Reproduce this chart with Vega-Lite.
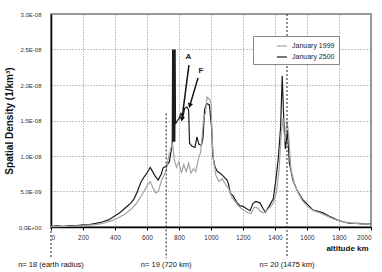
{
  "$schema": "https://vega.github.io/schema/vega-lite/v6.json",
  "width": 320,
  "height": 213,
  "autosize": {"type": "none"},
  "padding": {"left": 51, "top": 14, "right": 11, "bottom": 45},
  "background": "white",
  "config": {
    "font": "Liberation Sans",
    "view": {"stroke": "#9a9a9a", "strokeWidth": 2},
    "axis": {"gridColor": "#8a8a8a", "gridDash": [1, 2], "gridWidth": 1, "domainColor": "#000", "domainWidth": 1.5, "labelColor": "#333", "labelFontSize": 7, "tickColor": "#000", "labelOverlap": false, "labelBound": false}
  },
  "datasets": {
    "series": [
      {"series": "January 2500", "km": 0, "density": 1e-10},
      {"series": "January 2500", "km": 40, "density": 1.5e-10},
      {"series": "January 2500", "km": 80, "density": 1e-10},
      {"series": "January 2500", "km": 120, "density": 2e-10},
      {"series": "January 2500", "km": 160, "density": 2e-10},
      {"series": "January 2500", "km": 200, "density": 3e-10},
      {"series": "January 2500", "km": 240, "density": 3.5e-10},
      {"series": "January 2500", "km": 280, "density": 5e-10},
      {"series": "January 2500", "km": 320, "density": 7e-10},
      {"series": "January 2500", "km": 360, "density": 1.0e-9},
      {"series": "January 2500", "km": 400, "density": 1.6e-9},
      {"series": "January 2500", "km": 430, "density": 2.0e-9},
      {"series": "January 2500", "km": 460, "density": 2.6e-9},
      {"series": "January 2500", "km": 480, "density": 3.0e-9},
      {"series": "January 2500", "km": 500, "density": 3.4e-9},
      {"series": "January 2500", "km": 520, "density": 4.0e-9},
      {"series": "January 2500", "km": 540, "density": 5.0e-9},
      {"series": "January 2500", "km": 560, "density": 6.2e-9},
      {"series": "January 2500", "km": 580, "density": 7.0e-9},
      {"series": "January 2500", "km": 600, "density": 7.6e-9},
      {"series": "January 2500", "km": 620, "density": 8.4e-9},
      {"series": "January 2500", "km": 635, "density": 7.8e-9},
      {"series": "January 2500", "km": 650, "density": 7.2e-9},
      {"series": "January 2500", "km": 670, "density": 6.6e-9},
      {"series": "January 2500", "km": 690, "density": 7.5e-9},
      {"series": "January 2500", "km": 700, "density": 8.3e-9},
      {"series": "January 2500", "km": 720, "density": 8.6e-9},
      {"series": "January 2500", "km": 740, "density": 9.2e-9},
      {"series": "January 2500", "km": 755, "density": 1.13e-8},
      {"series": "January 2500", "km": 758, "density": 1.2e-8},
      {"series": "January 2500", "km": 760, "density": 2.5e-8},
      {"series": "January 2500", "km": 762, "density": 1.2e-8},
      {"series": "January 2500", "km": 764, "density": 2.5e-8},
      {"series": "January 2500", "km": 766, "density": 1.2e-8},
      {"series": "January 2500", "km": 768, "density": 2.5e-8},
      {"series": "January 2500", "km": 770, "density": 1.2e-8},
      {"series": "January 2500", "km": 772, "density": 2.5e-8},
      {"series": "January 2500", "km": 774, "density": 1.2e-8},
      {"series": "January 2500", "km": 776, "density": 2.5e-8},
      {"series": "January 2500", "km": 778, "density": 1.45e-8},
      {"series": "January 2500", "km": 790, "density": 1.5e-8},
      {"series": "January 2500", "km": 800, "density": 1.53e-8},
      {"series": "January 2500", "km": 812, "density": 1.6e-8},
      {"series": "January 2500", "km": 825, "density": 1.55e-8},
      {"series": "January 2500", "km": 835, "density": 1.67e-8},
      {"series": "January 2500", "km": 850, "density": 1.69e-8},
      {"series": "January 2500", "km": 860, "density": 1.65e-8},
      {"series": "January 2500", "km": 866, "density": 1.18e-8},
      {"series": "January 2500", "km": 880, "density": 1.14e-8},
      {"series": "January 2500", "km": 900, "density": 1.12e-8},
      {"series": "January 2500", "km": 912, "density": 1.27e-8},
      {"series": "January 2500", "km": 925, "density": 1.16e-8},
      {"series": "January 2500", "km": 940, "density": 1.15e-8},
      {"series": "January 2500", "km": 950, "density": 1.25e-8},
      {"series": "January 2500", "km": 960, "density": 1.65e-8},
      {"series": "January 2500", "km": 972, "density": 1.74e-8},
      {"series": "January 2500", "km": 990, "density": 1.72e-8},
      {"series": "January 2500", "km": 1004, "density": 1.4e-8},
      {"series": "January 2500", "km": 1012, "density": 9.9e-9},
      {"series": "January 2500", "km": 1025, "density": 8.5e-9},
      {"series": "January 2500", "km": 1040, "density": 7.8e-9},
      {"series": "January 2500", "km": 1056, "density": 7.6e-9},
      {"series": "January 2500", "km": 1075, "density": 7.2e-9},
      {"series": "January 2500", "km": 1100, "density": 6.6e-9},
      {"series": "January 2500", "km": 1110, "density": 6.0e-9},
      {"series": "January 2500", "km": 1120, "density": 4.8e-9},
      {"series": "January 2500", "km": 1140, "density": 4.3e-9},
      {"series": "January 2500", "km": 1160, "density": 3.5e-9},
      {"series": "January 2500", "km": 1180, "density": 3.0e-9},
      {"series": "January 2500", "km": 1200, "density": 2.9e-9},
      {"series": "January 2500", "km": 1220, "density": 2.6e-9},
      {"series": "January 2500", "km": 1244, "density": 2.3e-9},
      {"series": "January 2500", "km": 1262, "density": 3.3e-9},
      {"series": "January 2500", "km": 1280, "density": 3.6e-9},
      {"series": "January 2500", "km": 1306, "density": 3.4e-9},
      {"series": "January 2500", "km": 1325, "density": 2.6e-9},
      {"series": "January 2500", "km": 1340, "density": 2.1e-9},
      {"series": "January 2500", "km": 1360, "density": 2.8e-9},
      {"series": "January 2500", "km": 1375, "density": 3.4e-9},
      {"series": "January 2500", "km": 1390, "density": 4.0e-9},
      {"series": "January 2500", "km": 1405, "density": 6.6e-9},
      {"series": "January 2500", "km": 1420, "density": 9.5e-9},
      {"series": "January 2500", "km": 1435, "density": 1.4e-8},
      {"series": "January 2500", "km": 1445, "density": 2.13e-8},
      {"series": "January 2500", "km": 1455, "density": 1.5e-8},
      {"series": "January 2500", "km": 1465, "density": 1.1e-8},
      {"series": "January 2500", "km": 1478, "density": 1.35e-8},
      {"series": "January 2500", "km": 1490, "density": 9.0e-9},
      {"series": "January 2500", "km": 1512, "density": 6.6e-9},
      {"series": "January 2500", "km": 1537, "density": 5.2e-9},
      {"series": "January 2500", "km": 1575, "density": 3.8e-9},
      {"series": "January 2500", "km": 1610, "density": 3.0e-9},
      {"series": "January 2500", "km": 1637, "density": 2.4e-9},
      {"series": "January 2500", "km": 1670, "density": 2.2e-9},
      {"series": "January 2500", "km": 1700, "density": 2.0e-9},
      {"series": "January 2500", "km": 1740, "density": 1.5e-9},
      {"series": "January 2500", "km": 1787, "density": 1.0e-9},
      {"series": "January 2500", "km": 1830, "density": 7e-10},
      {"series": "January 2500", "km": 1870, "density": 5e-10},
      {"series": "January 2500", "km": 1920, "density": 5e-10},
      {"series": "January 2500", "km": 1960, "density": 4e-10},
      {"series": "January 2500", "km": 2000, "density": 4e-10},
      {"series": "January 1999", "km": 0, "density": 5e-11},
      {"series": "January 1999", "km": 100, "density": 1e-10},
      {"series": "January 1999", "km": 200, "density": 2e-10},
      {"series": "January 1999", "km": 260, "density": 3e-10},
      {"series": "January 1999", "km": 300, "density": 4e-10},
      {"series": "January 1999", "km": 340, "density": 6e-10},
      {"series": "January 1999", "km": 380, "density": 9e-10},
      {"series": "January 1999", "km": 420, "density": 1.3e-9},
      {"series": "January 1999", "km": 460, "density": 1.8e-9},
      {"series": "January 1999", "km": 500, "density": 2.5e-9},
      {"series": "January 1999", "km": 530, "density": 3.2e-9},
      {"series": "January 1999", "km": 560, "density": 4.2e-9},
      {"series": "January 1999", "km": 580, "density": 5.0e-9},
      {"series": "January 1999", "km": 600, "density": 5.8e-9},
      {"series": "January 1999", "km": 620, "density": 6.4e-9},
      {"series": "January 1999", "km": 640, "density": 5.4e-9},
      {"series": "January 1999", "km": 655, "density": 4.8e-9},
      {"series": "January 1999", "km": 670, "density": 5.0e-9},
      {"series": "January 1999", "km": 690, "density": 6.5e-9},
      {"series": "January 1999", "km": 705, "density": 7.2e-9},
      {"series": "January 1999", "km": 720, "density": 8.0e-9},
      {"series": "January 1999", "km": 735, "density": 9.9e-9},
      {"series": "January 1999", "km": 750, "density": 1.12e-8},
      {"series": "January 1999", "km": 760, "density": 1.18e-8},
      {"series": "January 1999", "km": 770, "density": 9.5e-9},
      {"series": "January 1999", "km": 785, "density": 8.4e-9},
      {"series": "January 1999", "km": 800, "density": 9.2e-9},
      {"series": "January 1999", "km": 815, "density": 7.6e-9},
      {"series": "January 1999", "km": 830, "density": 8.8e-9},
      {"series": "January 1999", "km": 845, "density": 7.8e-9},
      {"series": "January 1999", "km": 860, "density": 9.0e-9},
      {"series": "January 1999", "km": 875, "density": 7.6e-9},
      {"series": "January 1999", "km": 890, "density": 8.2e-9},
      {"series": "January 1999", "km": 905, "density": 7.8e-9},
      {"series": "January 1999", "km": 920, "density": 9.5e-9},
      {"series": "January 1999", "km": 935, "density": 1.05e-8},
      {"series": "January 1999", "km": 945, "density": 1.3e-8},
      {"series": "January 1999", "km": 955, "density": 1.55e-8},
      {"series": "January 1999", "km": 965, "density": 1.6e-8},
      {"series": "January 1999", "km": 975, "density": 1.83e-8},
      {"series": "January 1999", "km": 990, "density": 1.8e-8},
      {"series": "January 1999", "km": 1000, "density": 1.75e-8},
      {"series": "January 1999", "km": 1008, "density": 1.2e-8},
      {"series": "January 1999", "km": 1015, "density": 9.5e-9},
      {"series": "January 1999", "km": 1030, "density": 7.3e-9},
      {"series": "January 1999", "km": 1050, "density": 6.4e-9},
      {"series": "January 1999", "km": 1070, "density": 6.8e-9},
      {"series": "January 1999", "km": 1090, "density": 6.0e-9},
      {"series": "January 1999", "km": 1110, "density": 5.4e-9},
      {"series": "January 1999", "km": 1130, "density": 4.2e-9},
      {"series": "January 1999", "km": 1150, "density": 3.6e-9},
      {"series": "January 1999", "km": 1170, "density": 3.0e-9},
      {"series": "January 1999", "km": 1190, "density": 2.6e-9},
      {"series": "January 1999", "km": 1210, "density": 2.3e-9},
      {"series": "January 1999", "km": 1230, "density": 2.0e-9},
      {"series": "January 1999", "km": 1250, "density": 1.9e-9},
      {"series": "January 1999", "km": 1270, "density": 2.8e-9},
      {"series": "January 1999", "km": 1290, "density": 2.7e-9},
      {"series": "January 1999", "km": 1310, "density": 2.2e-9},
      {"series": "January 1999", "km": 1330, "density": 2.0e-9},
      {"series": "January 1999", "km": 1350, "density": 2.4e-9},
      {"series": "January 1999", "km": 1370, "density": 2.8e-9},
      {"series": "January 1999", "km": 1390, "density": 3.4e-9},
      {"series": "January 1999", "km": 1410, "density": 5.0e-9},
      {"series": "January 1999", "km": 1425, "density": 8.0e-9},
      {"series": "January 1999", "km": 1440, "density": 1.35e-8},
      {"series": "January 1999", "km": 1450, "density": 1.53e-8},
      {"series": "January 1999", "km": 1462, "density": 1.2e-8},
      {"series": "January 1999", "km": 1475, "density": 1.5e-8},
      {"series": "January 1999", "km": 1485, "density": 1.3e-8},
      {"series": "January 1999", "km": 1500, "density": 8.0e-9},
      {"series": "January 1999", "km": 1520, "density": 6.2e-9},
      {"series": "January 1999", "km": 1545, "density": 4.8e-9},
      {"series": "January 1999", "km": 1575, "density": 3.6e-9},
      {"series": "January 1999", "km": 1610, "density": 2.8e-9},
      {"series": "January 1999", "km": 1640, "density": 2.3e-9},
      {"series": "January 1999", "km": 1680, "density": 2.0e-9},
      {"series": "January 1999", "km": 1720, "density": 1.6e-9},
      {"series": "January 1999", "km": 1760, "density": 1.2e-9},
      {"series": "January 1999", "km": 1800, "density": 9e-10},
      {"series": "January 1999", "km": 1850, "density": 6e-10},
      {"series": "January 1999", "km": 1900, "density": 5e-10},
      {"series": "January 1999", "km": 1950, "density": 4e-10},
      {"series": "January 1999", "km": 2000, "density": 3.5e-10}
    ],
    "shells": [
      {"km": 0, "top": 0, "label": "n= 18 (earth radius)"},
      {"km": 720, "top": 1.6e-8, "label": "n= 19 (720 km)"},
      {"km": 1475, "top": 3e-8, "label": "n= 20 (1475 km)"}
    ],
    "arrows": [
      {"label": "A", "km": 862, "density": 2.28e-8, "km_end": 819, "density_end": 1.53e-8, "label_km": 858, "label_density": 2.4e-8},
      {"label": "F", "km": 919, "density": 2.1e-8, "km_end": 869, "density_end": 1.72e-8, "label_km": 937, "label_density": 2.2e-8}
    ]
  },
  "encoding": {
    "x": {
      "type": "quantitative",
      "scale": {"domain": [0, 2000], "nice": false},
      "axis": {"values": [0, 200, 400, 600, 800, 1000, 1200, 1400, 1600, 1800, 2000], "labelOverlap": false, "format": "d", "grid": true, "tickSize": 3, "labelPadding": 4, "labelFontSize": 6.5, "title": "altitude km", "titleFontSize": 8, "titleFontWeight": "bold", "titleColor": "#111", "titleX": 296, "titleY": 21, "titleBaseline": "middle"}
    },
    "y": {
      "type": "quantitative",
      "scale": {"domain": [0, 3e-8], "nice": false},
      "axis": {"values": [0, 5e-9, 1e-8, 1.5e-8, 2e-8, 2.5e-8, 3e-8], "labelOverlap": false, "grid": true, "tickSize": 0, "labelPadding": 10, "labelFontSize": 6, "labelExpr": "datum.value == 0 ? '0.0E+00' : (datum.value >= 9.9e-9 ? format(datum.value * 1e8, '.1f') + 'E-08' : format(datum.value * 1e9, '.1f') + 'E-09')", "title": "Spatial Density (1/km³)", "titleFontSize": 10, "titleFontWeight": "bold", "titleColor": "#111", "titlePadding": 4}
    }
  },
  "layer": [
    {
      "data": {"name": "series"},
      "mark": {"type": "line", "strokeWidth": 1.2},
      "encoding": {
        "x": {"field": "km"},
        "y": {"field": "density"},
        "color": {
          "field": "series", "type": "nominal",
          "scale": {"domain": ["January 1999", "January 2500"], "range": ["#a3a3a3", "#1c1c1c"]},
          "legend": {"title": null, "orient": "none", "legendX": 202, "legendY": 22, "strokeColor": "#888", "fillColor": "white", "padding": 4, "symbolType": "stroke", "symbolSize": 100, "symbolStrokeWidth": 1.2, "symbolOffset": 19, "labelFontSize": 7, "labelColor": "#222", "rowPadding": 2}
        }
      }
    },
    {
      "data": {"name": "shells"},
      "mark": {"type": "rule", "strokeDash": [2, 2], "color": "#222", "strokeWidth": 1},
      "encoding": {
        "x": {"field": "km"},
        "y": {"field": "top"},
        "y2": {"datum": -4.4e-9}
      }
    },
    {
      "data": {"name": "shells"},
      "mark": {"type": "text", "fontSize": 7.5, "color": "#111", "baseline": "middle"},
      "encoding": {
        "x": {"field": "km"},
        "y": {"datum": -5.4e-9},
        "text": {"field": "label"}
      }
    },
    {
      "data": {"name": "arrows"},
      "mark": {"type": "rule", "color": "#111", "strokeWidth": 1.5},
      "encoding": {
        "x": {"field": "km"},
        "y": {"field": "density"},
        "x2": {"field": "km_end"},
        "y2": {"field": "density_end"}
      }
    },
    {
      "data": {"name": "arrows"},
      "transform": [{"filter": "datum.label == 'A'"}],
      "mark": {"type": "point", "shape": "triangle", "filled": true, "color": "#111", "size": 30, "angle": 188, "opacity": 1},
      "encoding": {
        "x": {"field": "km_end"},
        "y": {"field": "density_end"}
      }
    },
    {
      "data": {"name": "arrows"},
      "transform": [{"filter": "datum.label == 'F'"}],
      "mark": {"type": "point", "shape": "triangle", "filled": true, "color": "#111", "size": 30, "angle": 196, "opacity": 1},
      "encoding": {
        "x": {"field": "km_end"},
        "y": {"field": "density_end"}
      }
    },
    {
      "data": {"name": "arrows"},
      "mark": {"type": "text", "fontSize": 8, "fontWeight": "bold", "color": "#222", "baseline": "middle"},
      "encoding": {
        "x": {"field": "label_km"},
        "y": {"field": "label_density"},
        "text": {"field": "label"}
      }
    }
  ]
}
